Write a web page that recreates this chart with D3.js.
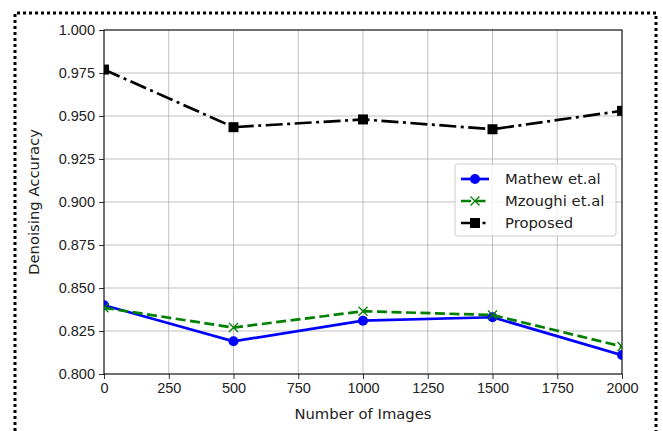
<!DOCTYPE html>
<html>
<head>
<meta charset="utf-8">
<script src="https://cdn.jsdelivr.net/npm/d3@7"></script>
<style>
  body { margin: 0; background: #fff; }
  svg { display: block; font-family: "DejaVu Sans", sans-serif; }
  .axis text { font-size: 14.5px; fill: #222; }
  .lab { font-size: 14.8px; fill: #222; }
</style>
</head>
<body>
<div id="plot"></div>
<script>
const images = [0, 500, 1000, 1500, 2000]
const mathew = [0.840, 0.819, 0.831, 0.833, 0.811]
const mzoughi = [0.8385, 0.827, 0.8365, 0.8343, 0.816]
const proposed = [0.977, 0.9435, 0.948, 0.9423, 0.953]
const xTicks = [0, 250, 500, 750, 1000, 1250, 1500, 1750, 2000]
const yTicks = [0.800, 0.825, 0.850, 0.875, 0.900, 0.925, 0.950, 0.975, 1.000]

const w = 663, h = 431,
    margin = {top: 30, right: 41, bottom: 57, left: 104},
    x = d3.scaleLinear().domain([0, 2000]).range([margin.left, w - margin.right]),
    y = d3.scaleLinear().domain([0.8, 1.0]).range([h - margin.bottom, margin.top])

const series = [
  {name: "Mathew et.al", vals: mathew, color: "#0000ff", dash: null, marker: "circle"},
  {name: "Mzoughi et.al", vals: mzoughi, color: "#008000", dash: "10,4.5", marker: "x"},
  {name: "Proposed", vals: proposed, color: "#000000", dash: "17,4.5,3,4.5", marker: "square"}
]

const svg = d3.select("#plot").append("svg")
  .attr("width", w)
  .attr("height", h)

// dotted frame around the figure
svg.append("path")
  .attr("d", `M15,${h} L15,13 L656,13 L656,${h}`)
  .attr("fill", "none")
  .attr("stroke", "#000")
  .attr("stroke-width", 3)
  .attr("stroke-dasharray", "3,3")

// grid
const grid = svg.append("g")
grid.selectAll(".gx").data(xTicks).join("line")
  .attr("x1", d => x(d)).attr("x2", d => x(d))
  .attr("y1", y(0.8)).attr("y2", y(1.0))
  .attr("stroke", "#b0b0b0").attr("stroke-width", 0.8)
grid.selectAll(".gy").data(yTicks).join("line")
  .attr("x1", x(0)).attr("x2", x(2000))
  .attr("y1", d => y(d)).attr("y2", d => y(d))
  .attr("stroke", "#b0b0b0").attr("stroke-width", 0.8)

// axes
svg.append("g")
  .attr("class", "axis")
  .attr("transform", `translate(0, ${y(0.8)})`)
  .call(d3.axisBottom(x).tickValues(xTicks).tickFormat(d3.format("d")).tickSize(5).tickPadding(4))
svg.append("g")
  .attr("class", "axis")
  .attr("transform", `translate(${x(0)}, 0)`)
  .call(d3.axisLeft(y).tickValues(yTicks).tickFormat(d3.format(".3f")).tickSize(5).tickPadding(4))
svg.selectAll(".axis .domain").remove()
svg.selectAll(".axis line").attr("stroke", "#000").attr("stroke-width", 0.8)

svg.append("rect")
  .attr("x", x(0)).attr("y", y(1.0))
  .attr("width", x(2000) - x(0)).attr("height", y(0.8) - y(1.0))
  .attr("fill", "none").attr("stroke", "#000").attr("stroke-width", 1)

svg.append("text")
  .attr("class", "lab")
  .attr("x", (x(0) + x(2000)) / 2)
  .attr("y", 419)
  .attr("text-anchor", "middle")
  .text("Number of Images")

svg.append("text")
  .attr("class", "lab")
  .attr("transform", `translate(39, ${(y(0.8) + y(1.0)) / 2}) rotate(-90)`)
  .attr("text-anchor", "middle")
  .text("Denoising Accuracy")

svg.append("clipPath").attr("id", "clip")
  .append("rect")
  .attr("x", x(0)).attr("y", y(1.0))
  .attr("width", x(2000) - x(0)).attr("height", y(0.8) - y(1.0))

const drawMarker = (g, type, cx, cy, color) => {
  if (type === "circle") {
    g.append("circle").attr("cx", cx).attr("cy", cy).attr("r", 5).attr("fill", color)
  } else if (type === "square") {
    g.append("rect").attr("x", cx - 5).attr("y", cy - 5).attr("width", 10).attr("height", 10).attr("fill", color)
  } else {
    g.append("path")
      .attr("d", `M${cx - 4.5},${cy - 4.5}L${cx + 4.5},${cy + 4.5}M${cx - 4.5},${cy + 4.5}L${cx + 4.5},${cy - 4.5}`)
      .attr("stroke", color).attr("stroke-width", 1.3)
  }
}

const lines = svg.append("g").attr("clip-path", "url(#clip)")
series.forEach(s => {
  lines.append("path")
    .datum(s.vals)
    .attr("fill", "none")
    .attr("stroke", s.color)
    .attr("stroke-width", 2.7)
    .attr("stroke-dasharray", s.dash)
    .attr("d", d3.line().x((d, i) => x(images[i])).y(d => y(d)))
  s.vals.forEach((v, i) => drawMarker(lines, s.marker, x(images[i]), y(v), s.color))
})

// legend
const leg = svg.append("g").attr("transform", "translate(455, 164)")
leg.append("rect")
  .attr("width", 161).attr("height", 72).attr("rx", 3)
  .attr("fill", "#fff").attr("fill-opacity", 0.8)
  .attr("stroke", "#cccccc").attr("stroke-width", 1)
series.forEach((s, i) => {
  const ly = 15 + i * 22
  leg.append("line")
    .attr("x1", 6).attr("x2", 34).attr("y1", ly).attr("y2", ly)
    .attr("stroke", s.color).attr("stroke-width", 2.7)
    .attr("stroke-dasharray", s.dash)
  drawMarker(leg, s.marker, 20, ly, s.color)
  leg.append("text")
    .attr("class", "lab")
    .attr("x", 50).attr("y", ly + 5)
    .text(s.name)
})
</script>
</body>
</html>
